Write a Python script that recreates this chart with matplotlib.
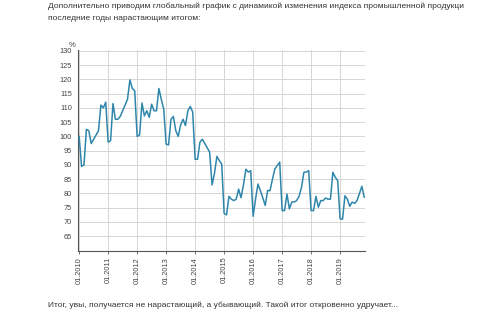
import matplotlib
matplotlib.use("Agg")
import matplotlib.pyplot as plt
import numpy as np

plt.rcParams['font.family'] = ['Liberation Sans', 'DejaVu Sans']

# monthly index values, Jan 2010 .. Nov 2019
y2010 = [100, 89.5, 90, 102.5, 102, 97.5, 99, 100.5, 102, 111, 110, 112]
y2011 = [98, 98.5, 111.5, 106, 106, 107, 109, 111, 113, 119.8, 116.8, 116]
y2012 = [100, 100.5, 111.7, 107.2, 109, 106.7, 111.3, 109, 109, 116.8, 113, 109.6]
y2013 = [97.3, 97, 106, 107, 102, 100, 104, 106, 103.8, 109, 110.5, 108.5]
y2014 = [92, 92, 98, 99, 97.5, 96, 94.5, 83, 87, 93, 91.5, 90.3]
y2015 = [73, 72.5, 79, 78, 77.5, 78, 81.5, 78.5, 83, 88.5, 87.5, 88]
y2016 = [72, 78, 83.3, 81, 78.5, 75.8, 81, 81, 85, 88.6, 89.8, 91]
y2017 = [74, 74, 79.8, 74.6, 77, 77, 77.5, 79, 82, 87.4, 87.5, 88]
y2018 = [74, 74, 79, 75.2, 77.5, 77.5, 78.4, 78, 78, 87.4, 85.7, 84.5]
y2019 = [71.1, 71, 79.2, 78, 75.5, 77, 76.5, 77.5, 80, 82.5, 78.7]

values = y2010 + y2011 + y2012 + y2013 + y2014 + y2015 + y2016 + y2017 + y2018 + y2019
years = list(range(2010, 2020))
tick_labels = [f'01.{y}' for y in years]
y_ticks = list(range(65, 131, 5))

text_top1 = 'Дополнительно приводим глобальный график с динамикой изменения индекса промышленной продукци'
text_top2 = 'последние годы нарастающим итогом:'
text_bottom = 'Итог, увы, получается не нарастающий, а убывающий. Такой итог откровенно удручает...'

W, H = 490, 327
fig = plt.figure(figsize=(W / 100, H / 100), dpi=100)
ax = fig.add_axes([77.7 / W, 1 - 250.5 / H, (365 - 77.7) / W, (250.5 - 50) / H])

x = np.arange(len(values))
ax.plot(x, values, color='#2f86ab', linewidth=1.1, zorder=3)

ax.set_xlim(-0.6, 118.3)
ax.set_ylim(60, 130.3)
ax.set_yticks(y_ticks)
ax.set_yticklabels([str(v) for v in y_ticks])
ax.set_xticks([12 * i for i in range(len(years))])
ax.set_xticklabels(tick_labels, rotation=90)
ax.tick_params(axis='y', length=0, pad=4, labelsize=5.3, labelcolor='#444444')
ax.tick_params(axis='x', length=2.5, width=0.6, color='#555555', pad=2, labelsize=5.3, labelcolor='#444444')
ax.grid(True, color='#d6d6d6', linewidth=0.7)
ax.set_axisbelow(True)
for s in ['top', 'right']:
    ax.spines[s].set_visible(False)
for s in ['left', 'bottom']:
    ax.spines[s].set_color('#555555')
    ax.spines[s].set_linewidth(0.8)

fig.text(72 / W, 1 - 45.5 / H, '%', fontsize=5.5, color='#444444', ha='center', va='center')
fig.text(48 / W, 1 - 6.5 / H, text_top1, fontsize=6.05, color='#333333', ha='left', va='center')
fig.text(48 / W, 1 - 18.5 / H, text_top2, fontsize=6.05, color='#333333', ha='left', va='center')
fig.text(48 / W, 1 - 305.5 / H, text_bottom, fontsize=6.05, color='#333333', ha='left', va='center')

fig.savefig('out.png', dpi=100)
